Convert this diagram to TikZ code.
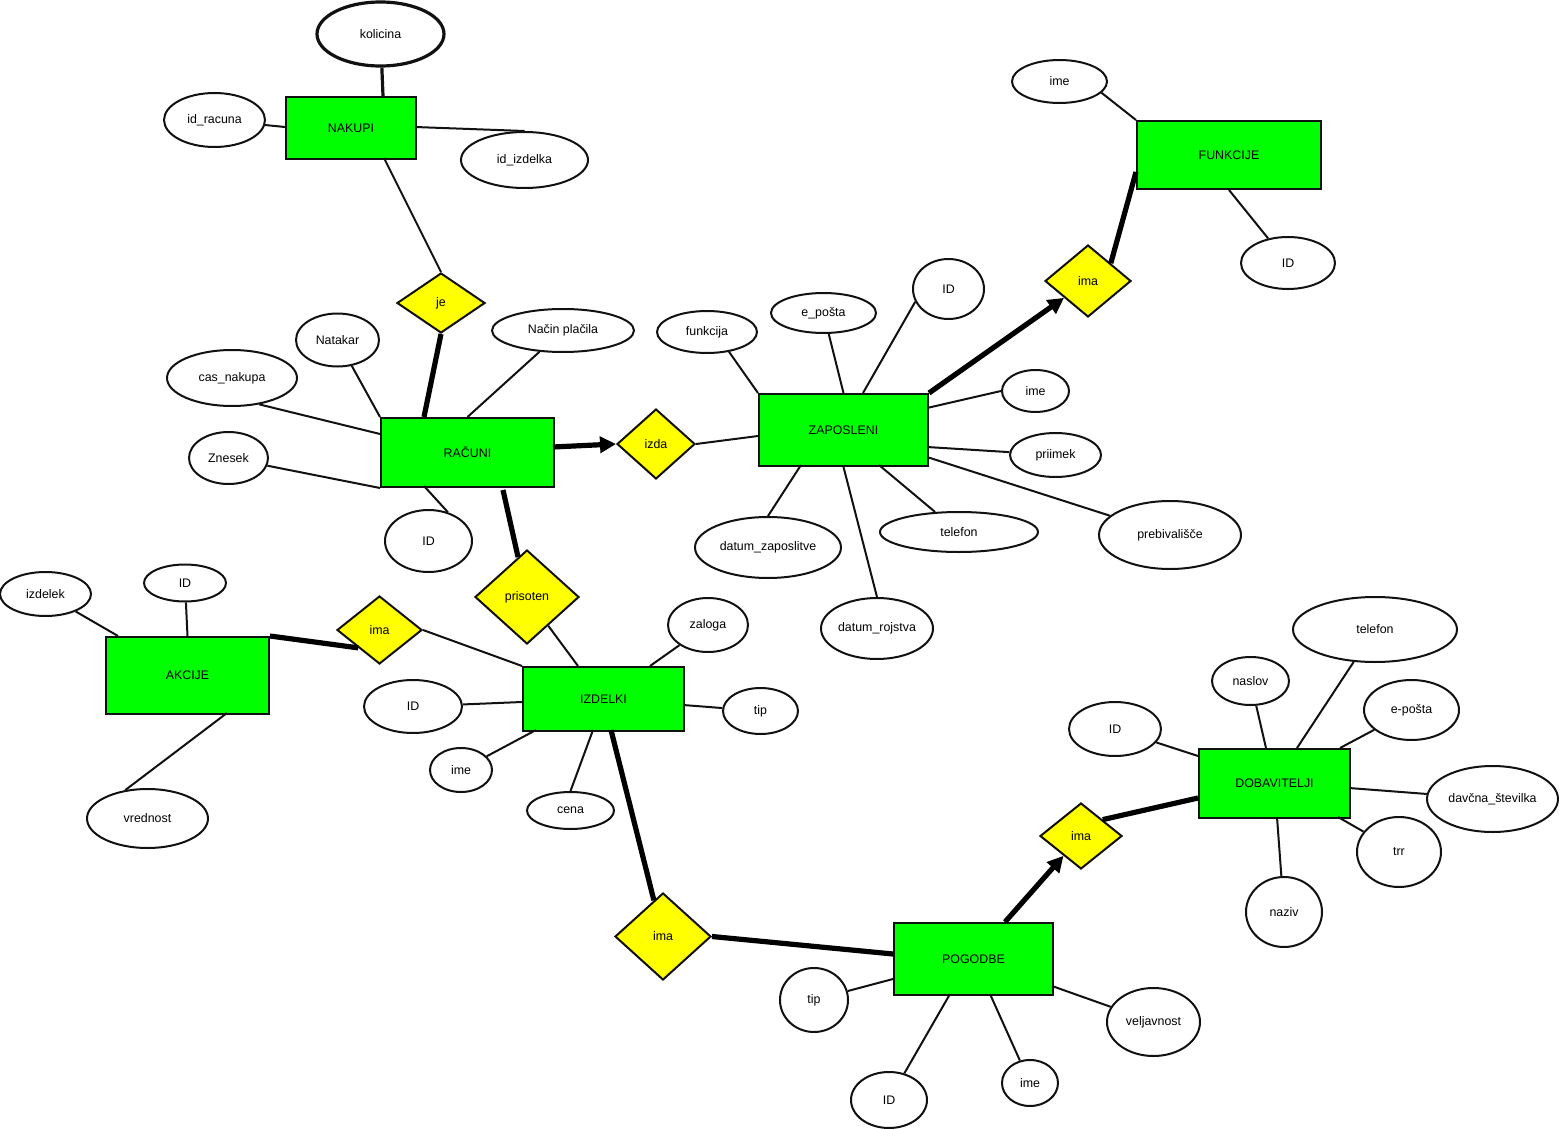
\documentclass[tikz,border=0pt]{standalone}
\usepackage{fontspec}
\setmainfont{Liberation Sans}
\usetikzlibrary{arrows.meta,shapes.geometric}
\definecolor{entgreen}{HTML}{00FF00}
\definecolor{relyellow}{HTML}{FFFF00}
\definecolor{edgeblack}{HTML}{111111}
\tikzset{
  base/.style={draw=edgeblack, line width=1pt, inner sep=0pt,
    font=\fontsize{6.2}{7}\selectfont, text=black},
  sz/.style 2 args={minimum width=#1pt, minimum height=#2pt},
  entity/.style={base, rectangle, fill=entgreen},
  rel/.style={base, diamond, fill=relyellow},
  attrib/.style={base, ellipse, fill=white},
  conn/.style={draw=edgeblack, line width=1pt},
  heavy/.style={draw=black, line width=2.6pt},
  heavyarr/.style={heavy, -{Triangle[length=8pt,width=8pt]}},
}

\begin{document}
\begin{tikzpicture}[x=0.5pt, y=-0.5pt]
\useasboundingbox (0,0) rectangle (1559,1129);

% ------------------------------------------------------------- entities
\foreach \nm/\x/\y/\w/\h/\txt in {
    nakupi/351/128/65/31/NAKUPI,
    racuni/467.5/452.5/86.5/34.5/RAČUNI,
    zaposleni/843.5/430/84.5/36/ZAPOSLENI,
    funkcije/1229/155/92/34/FUNKCIJE,
    akcije/187.5/675.5/81.5/38.5/AKCIJE,
    izdelki/603.5/699/80.5/32/IZDELKI,
    pogodbe/973.5/959/79.5/36/POGODBE,
    dobavitelji/1274.5/783.5/75.5/34.5/DOBAVITELJI} {
  \node[entity, sz={\w}{\h}] (\nm) at (\x,\y) {\txt};
}

% ------------------------------------------------------------- relations
\foreach \nm/\x/\y/\w/\h/\txt in {
    je/441/303/44/30/je,
    izda/656/444/39/35/izda,
    imaf/1088/281/43/36/ima,
    prisoten/527/597/52/47/prisoten,
    imaa/379.5/630/42.5/34/ima,
    imap/663/936.5/48/43.5/ima,
    imad/1081/836/41/33/ima} {
  \node[rel, sz={\w}{\h}] (\nm) at (\x,\y) {\txt};
}

% ------------------------------------------------------------- attributes
\node[attrib, sz={63.5}{32}, line width=1.6pt] (kolicina) at (380.5,34) {kolicina};
\foreach \nm/\x/\y/\w/\h/\txt in {
    idracuna/214.5/120/50.5/27/id\_racuna,
    idizdelka/524.5/160/63.5/28/id\_izdelka,
    natakar/337.5/340/41.5/26.5/Natakar,
    nacin/563/330.5/71/21.5/Način plačila,
    casnakupa/232/378/65/28/cas\_nakupa,
    znesek/228.5/458/39.5/26/Znesek,
    racid/428.5/541/43.5/31/ID,
    funkcija/707/332/50/21/funkcija,
    eposta/823.5/313/52.5/20/e\_pošta,
    zapid/948.5/289/35.5/30/ID,
    zapime/1035.5/391/33.5/21/ime,
    priimek/1055.5/455/45.5/22/priimek,
    prebiv/1170/535/71/34/prebivališče,
    zaptel/959/532/79/20/telefon,
    datzap/768/547.5/73/30.5/datum\_zaposlitve,
    datroj/877/628.5/56/30.5/datum\_rojstva,
    funkime/1059.5/81.5/47.5/21.5/ime,
    funkid/1288/263/47/26/ID,
    izdelek/45.5/594/45.5/22/izdelek,
    akcid/185/583/41/18.5/ID,
    vrednost/147.5/818.5/60.5/29.5/vrednost,
    zaloga/708/625/40/27/zaloga,
    izdtip/760.5/711/37.5/23/tip,
    izdid/413/706.5/49/26.5/ID,
    izdime/461/770/31/22/ime,
    cena/570.5/810.5/43.5/18.5/cena,
    pogtip/814/1000/34/32/tip,
    pogid/889/1100/38/28/ID,
    pogime/1030/1083/28/23/ime,
    veljavnost/1153.5/1022/46.5/34/veljavnost,
    dobid/1115/729/46/27/ID,
    naslov/1250.5/681/38.5/24/naslov,
    dobtel/1375/629.5/82/32.5/telefon,
    dobposta/1411.5/710/47.5/30/e-pošta,
    davcna/1492.5/799/65.5/33/davčna\_številka,
    trr/1399/852/42/35/trr,
    naziv/1284/912/38/35/naziv} {
  \node[attrib, sz={\w}{\h}] (\nm) at (\x,\y) {\txt};
}

% ------------------------------------------------------------- NAKUPI
\draw[conn, line width=1.6pt] (kolicina) -- ([shift={(98,0)}]nakupi.north west);
\draw[conn] (idracuna) -- ([shift={(0,31)}]nakupi.north west);
\draw[conn] (idizdelka.north) -- ([shift={(130,31)}]nakupi.north west);
\draw[conn] (je.north) -- ([shift={(99,62)}]nakupi.north west);

% ------------------------------------------------------------- RAČUNI
\draw[heavy] (je.south) -- ([shift={(44,0)}]racuni.north west);
\draw[conn] (natakar) -- (racuni.north west);
\draw[conn] (casnakupa.316) -- ([shift={(0,17)}]racuni.north west);
\draw[conn] (znesek) -- (racuni.south west);
\draw[conn] (racid.56) -- ([shift={(44,69)}]racuni.north west);
\draw[conn] (nacin) -- (racuni.north);
\draw[heavyarr] ([shift={(173,30)}]racuni.north west) -- (izda.west);
\draw[heavy] ([shift={(123,73)}]racuni.north west) -- (prisoten);

% ------------------------------------------------------------- ZAPOSLENI
\draw[conn] (izda.east) -- ([shift={(0,43)}]zaposleni.north west);
\draw[conn] (funkcija.318) -- (zaposleni.north west);
\draw[conn] (eposta) -- (zaposleni.north);
\draw[conn] (zapid.201) -- ([shift={(105,0)}]zaposleni.north west);
\draw[conn] (zapime.west) -- ([shift={(169,15)}]zaposleni.north west);
\draw[conn] (priimek) -- ([shift={(169,54)}]zaposleni.north west);
\draw[conn] (prebiv) -- ([shift={(169,64)}]zaposleni.north west);
\draw[conn] (zaptel) -- ([shift={(121,72)}]zaposleni.north west);
\draw[conn] (datzap.north) -- ([shift={(43,72)}]zaposleni.north west);
\draw[conn] (datroj.north) -- (zaposleni.south);
\draw[heavyarr] (zaposleni.north east) -- (imaf);

% ------------------------------------------------------------- FUNKCIJE
\draw[conn] (funkime.345) -- (funkcije.north west);
\draw[conn] (funkid) -- (funkcije.south);
\draw[heavy] (imaf.38) -- ([shift={(0,52)}]funkcije.north west);

% ------------------------------------------------------------- AKCIJE
\draw[conn] (izdelek) -- ([shift={(13,0)}]akcije.north west);
\draw[conn] (akcid) -- (akcije.north);
\draw[conn] (vrednost.128) -- ([shift={(122,77)}]akcije.north west);
\draw[heavy] (akcije.north east) -- (imaa.220);

% ------------------------------------------------------------- IZDELKI
\draw[conn] (prisoten) -- ([shift={(56,0)}]izdelki.north west);
\draw[conn] (imaa.east) -- (izdelki.north west);
\draw[conn] (zaloga) -- ([shift={(128,0)}]izdelki.north west);
\draw[conn] (izdtip) -- ([shift={(161,39)}]izdelki.north west);
\draw[conn] (izdid) -- ([shift={(0,36)}]izdelki.north west);
\draw[conn] (izdime) -- ([shift={(14,64)}]izdelki.north west);
\draw[conn] (cena.north) -- ([shift={(71,64)}]izdelki.north west);
\draw[heavy] ([shift={(89,64)}]izdelki.north west) -- (imap);

% ------------------------------------------------------------- POGODBE
\draw[heavy] (imap.east) -- ([shift={(0,32)}]pogodbe.north west);
\draw[heavyarr] ([shift={(112,0)}]pogodbe.north west) -- (imad);
\draw[conn] (pogtip) -- ([shift={(0,57)}]pogodbe.north west);
\draw[conn] (pogid) -- ([shift={(57,72)}]pogodbe.north west);
\draw[conn] (pogime) -- ([shift={(97,72)}]pogodbe.north west);
\draw[conn] (veljavnost) -- ([shift={(159,64)}]pogodbe.north west);

% ------------------------------------------------------------- DOBAVITELJI
\draw[heavy] (imad.37) -- ([shift={(0,50)}]dobavitelji.north west);
\draw[conn] (dobid) -- ([shift={(0,8)}]dobavitelji.north west);
\draw[conn] (naslov) -- ([shift={(68,0)}]dobavitelji.north west);
\draw[conn] (dobtel) -- ([shift={(99,0)}]dobavitelji.north west);
\draw[conn] (dobposta) -- ([shift={(142,0)}]dobavitelji.north west);
\draw[conn] (davcna) -- ([shift={(151,40)}]dobavitelji.north west);
\draw[conn] (trr) -- ([shift={(140,69)}]dobavitelji.north west);
\draw[conn] (naziv) -- ([shift={(79,69)}]dobavitelji.north west);

\end{tikzpicture}
\end{document}
